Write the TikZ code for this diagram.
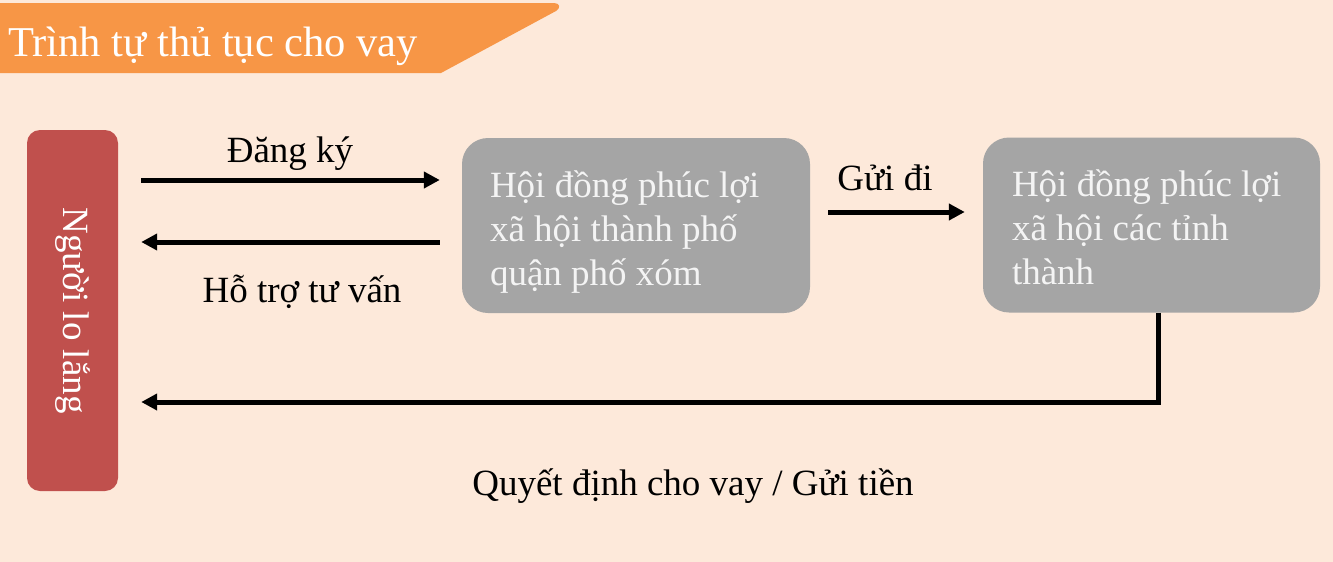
\documentclass[tikz,border=0pt]{standalone}
\usepackage{fontspec}
\setmainfont{Liberation Serif}
\usetikzlibrary{arrows.meta}
\definecolor{peach}{HTML}{FDE9DA}
\definecolor{orangeb}{HTML}{F79646}
\definecolor{redb}{HTML}{C0504D}
\definecolor{grayb}{HTML}{A5A5A5}
\definecolor{boxtext}{HTML}{F4F4F4}
\tikzset{
  arr/.style={line width=5pt, -{Triangle[length=16pt,width=16pt]}},
  graybox/.style={fill=grayb, rounded corners=26pt, text=boxtext, align=flush left, inner xsep=28pt, inner ysep=0pt, minimum height=175pt, font=\fontsize{37}{44}\selectfont},
  redbox/.style={fill=redb, rounded corners=13pt, text=white, minimum width=361pt, minimum height=91pt, rotate=-90, font=\fontsize{37}{43.5}\selectfont},
  lbl/.style={anchor=base, font=\fontsize{37}{43.5}\selectfont}
}
\begin{document}
\begin{tikzpicture}[x=1pt,y=-1pt]
\useasboundingbox (0,0) rectangle (1333,562);
\fill[peach] (0,0) rectangle (1333,562);
% banner
\fill[orangeb] (0,3) -- (554,3) .. controls (560,3) and (561,8) .. (556,11) -- (441,73) -- (0,73) -- cycle;
\node[anchor=base west, text=white, font=\fontsize{42.5}{50}\selectfont, inner sep=0pt] (title) at (8,56) {Trình tự thủ tục cho vay};
% nodes
\node[redbox] (p) at (72.5,310.5) {Người lo lắng};
\node[graybox, text width=292pt] (b1) at (636,225.5) {\rule{0pt}{40pt}Hội đồng phúc lợi\\xã hội thành phố\\quận phố xóm};
\node[graybox, text width=279pt, inner xsep=29pt] (b2) at (1151.5,225) {\rule{0pt}{31pt}Hội đồng phúc lợi\\xã hội các tỉnh\\thành};
% connectors
\draw[arr, shorten <=23pt, shorten >=22pt] (p.north |- 0,180) -- (b1.west |- 0,180);
\draw[arr, shorten <=22pt, shorten >=23pt] (b1.west |- 0,242) -- (p.north |- 0,242);
\draw[arr, shorten <=18pt, shorten >=18pt] (b1.east |- 0,212) -- (b2.west |- 0,212);
\coordinate (c1) at (1158,402);
\draw[arr, shorten >=23pt, line join=miter] (b2.south -| c1) -- (c1) -- (p.north |- c1);
% labels
\node[lbl] (l1) at (290,162) {Đăng ký};
\node[lbl] (l2) at (302,302) {Hỗ trợ tư vấn};
\node[lbl] (l3) at (885,190) {Gửi đi};
\node[lbl] (l4) at (693,495) {Quyết định cho vay / Gửi tiền};
\end{tikzpicture}
\end{document}
